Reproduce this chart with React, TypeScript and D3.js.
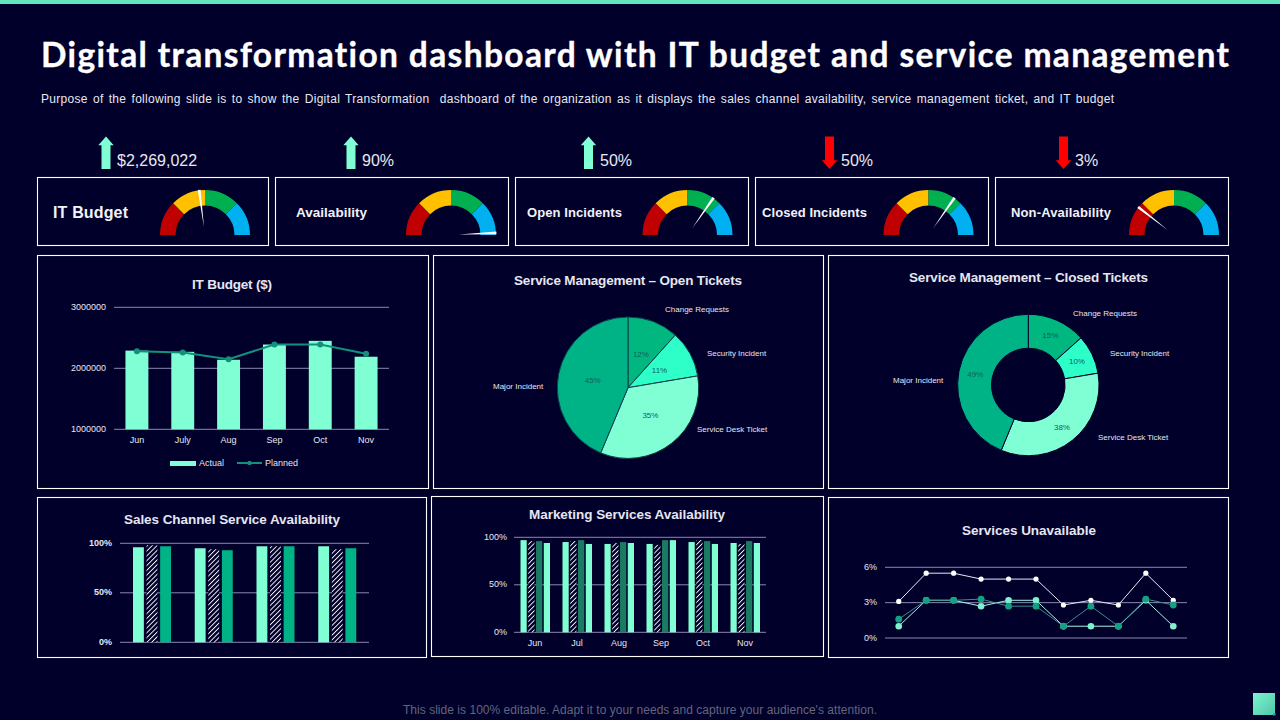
import React from "react";
import * as d3 from "d3";

const BG = "#00002b";
const MINT = "#80ffd4";
const GREEN = "#00b386";
const SANS = "'Liberation Sans', Arial, sans-serif";

const titleText = "Digital transformation dashboard with IT budget and service management";
const subtitleText = "Purpose of the following slide is to show the Digital Transformation  dashboard of the organization as it displays the sales channel availability, service management ticket, and IT budget";
const footerText = "This slide is 100% editable. Adapt it to your needs and capture your audience's attention.";

const kpiLabels = ["IT Budget", "Availability", "Open Incidents", "Closed Incidents", "Non-Availability"];
const kpiValues = ["$2,269,022", "90%", "50%", "50%", "3%"];
const kpiTrendUp = [true, true, true, false, false];
const kpiNeedle = [0.459, 0.985, 0.694, 0.694, 0.211];
const gaugeBands = [0, 0.25, 0.5, 0.75, 1];
const gaugeColors = ["#c00000", "#ffc000", "#00b050", "#00b0f0"];

const budgetMonths = ["Jun", "July", "Aug", "Sep", "Oct", "Nov"];
const budgetActual = [2290000, 2270000, 2140000, 2390000, 2450000, 2190000];
const budgetPlanned = [2280000, 2260000, 2150000, 2390000, 2390000, 2240000];
const budgetTicks = [1000000, 2000000, 3000000];

const ticketCats = ["Change Requests", "Security Incident", "Service Desk Ticket", "Major Incident"];
const ticketColors = ["#00b77f", "#2effc8", MINT, GREEN];
const openTickets = [12, 11, 35, 45];
const closedTickets = [15, 10, 38, 49];

const salesRegions = ["A", "B", "C", "D"];
const salesS1 = [96, 95, 97, 97];
const salesS2 = [98, 94, 97, 94];
const salesS3 = [97, 93, 97, 95];

const mktMonths = ["Jun", "Jul", "Aug", "Sep", "Oct", "Nov"];
const mktS1 = [97, 95, 93, 93, 95, 94];
const mktS2 = [96, 96, 94, 92, 97, 93];
const mktS3 = [96, 97, 95, 97, 96, 96];
const mktS4 = [94, 93, 94, 97, 93, 94];

const unavailIdx = ["1", "2", "3", "4", "5", "6", "7", "8", "9", "10", "11"];
const unavailWhite = [3.1, 5.5, 5.5, 5, 5, 5, 2.8, 3.2, 2.8, 5.5, 3.2];
const unavailMint = [1, 3.2, 3.2, 2.7, 3.2, 3.2, 1, 1, 1, 3.2, 1];
const unavailGreen = [1.6, 3.2, 3.2, 3.3, 2.7, 2.7, 1, 2.7, 1, 3.3, 2.8];

const T = ({ x, y, s = 9, w = 400, a = "start", c = "#e6e6f0", len, children, f = SANS, ws, st }: any) => (
  <text x={x} y={y} fontSize={s} fontWeight={w} textAnchor={a} fill={c} fontFamily={f} dominantBaseline="central"
    textLength={len} lengthAdjust={len ? "spacing" : undefined} xmlSpace="preserve" wordSpacing={ws}
    stroke={st ? c : undefined} strokeWidth={st}
    style={{ fontVariantLigatures: "none" }}>{children}</text>
);

const Panel = ({ x0, y0, x1, y1 }: any) => (
  <rect x={x0 + 0.5} y={y0 + 0.5} width={x1 - x0 - 1} height={y1 - y0 - 1} fill="none" stroke="#ffffff" strokeWidth={1.1} />
);

const Arrow = ({ cx, up }: any) => {
  const top = 136.5, bot = 169;
  const c = up ? MINT : "#ff0000";
  const y = d3.scaleLinear().domain([0, 1]).range(up ? [top, bot] : [bot, top]);
  const pts: [number, number][] = [[0, 0], [7.7, 0.27], [4.5, 0.27], [4.5, 1], [-4.5, 1], [-4.5, 0.27], [-7.7, 0.27]];
  return <polygon fill={c} points={pts.map(p => `${cx + p[0]},${y(p[1])}`).join(" ")} />;
};

const Gauge = ({ cx, value }: any) => {
  const cy = 235, R = 45, r = 29.5;
  const ang = d3.scaleLinear().domain([0, 1]).range([-Math.PI / 2, Math.PI / 2]);
  const arc = d3.arc();
  const a = ang(value);
  const dir = [Math.sin(a), -Math.cos(a)];
  const perp = [Math.cos(a), Math.sin(a)];
  const tip = [cx + dir[0] * 45.5, cy + dir[1] * 45.5];
  const base = [cx + dir[0] * 8, cy + dir[1] * 8];
  const hw = 1.4;
  return (
    <g>
      {gaugeColors.map((c, i) => (
        <path key={i} fill={c} transform={`translate(${cx},${cy})`}
          d={arc({ innerRadius: r, outerRadius: R, startAngle: ang(gaugeBands[i]), endAngle: ang(gaugeBands[i + 1]) }) as string} />
      ))}
      <polygon fill="#ffffff" points={`${base[0]},${base[1]} ${tip[0] + perp[0] * hw},${tip[1] + perp[1] * hw} ${tip[0] - perp[0] * hw},${tip[1] - perp[1] * hw}`} />
    </g>
  );
};

const Grid = ({ x0, x1, y }: any) => <line x1={x0} x2={x1} y1={y} y2={y} stroke="#8c86b0" strokeWidth={1} />;

const BudgetChart = () => {
  const x = d3.scaleBand().domain(budgetMonths).range([114, 389]).paddingInner(0.5).paddingOuter(0.25);
  const y = d3.scaleLinear().domain([1000000, 3000000]).range([429.3, 307.3]);
  const cx = (m: string) => (x(m) as number) + x.bandwidth() / 2;
  const line = d3.line<number>().x((_, i) => cx(budgetMonths[i])).y(v => y(v));
  return (
    <g>
      <T x={232} y={284} s={13.5} w={700} a="middle" len={80}>IT Budget ($)</T>
      {budgetTicks.map(t => (
        <g key={t}>
          <Grid x0={114} x1={389} y={y(t)} />
          <T x={106} y={y(t) - 0.5} a="end" s={9}>{String(t)}</T>
        </g>
      ))}
      {budgetMonths.map((m, i) => (
        <rect key={m} x={x(m)} width={x.bandwidth()} y={y(budgetActual[i])} height={y(1000000) - y(budgetActual[i])} fill={MINT} />
      ))}
      <path d={line(budgetPlanned) as string} fill="none" stroke="#12917a" strokeWidth={2} />
      {budgetMonths.map((m, i) => <circle key={m} cx={cx(m)} cy={y(budgetPlanned[i])} r={3} fill="#12917a" />)}
      {budgetMonths.map(m => <T key={m} x={cx(m)} y={440} a="middle" s={9}>{m}</T>)}
      <rect x={170} y={461} width={26} height={5} fill={MINT} />
      <T x={199} y={463} s={9}>Actual</T>
      <line x1={237} x2={262} y1={463} y2={463} stroke="#12917a" strokeWidth={2} />
      <circle cx={249.5} cy={463} r={2.2} fill="#12917a" />
      <T x={265} y={463} s={9}>Planned</T>
    </g>
  );
};

const Pie = ({ cx, cy, values, inner, labelR, labels, title, stroke }: any) => {
  const pie = d3.pie<number>().sort(null).value(v => v);
  const arcs = pie(values);
  const arc = d3.arc<any>().innerRadius(inner).outerRadius(70.7);
  const lab = d3.arc<any>().innerRadius(labelR).outerRadius(labelR);
  return (
    <g>
      <T x={title.x} y={title.y} s={13.5} w={700} a="middle" len={title.len}>{title.text}</T>
      {arcs.map((d, i) => (
        <path key={i} transform={`translate(${cx},${cy})`} d={arc(d) as string} fill={ticketColors[i]} stroke={stroke} strokeWidth={1} />
      ))}
      {arcs.map((d, i) => {
        const [a, b] = lab.centroid(d);
        return <T key={i} x={cx + a} y={cy + b} s={8} a="middle" c="#0d5f5a">{`${values[i]}%`}</T>;
      })}
      {ticketCats.map((c, i) => <T key={c} x={labels[i][0]} y={labels[i][1]} s={8}>{c}</T>)}
    </g>
  );
};

const SalesChart = () => {
  const y = d3.scaleLinear().domain([0, 100]).range([642.3, 543.3]);
  const x = d3.scaleBand().domain(salesRegions).range([120, 367]);
  const sub = d3.scaleBand().domain(["a", "b", "c"]).range([13, 51]).paddingInner(0.2);
  const series: [string, number[], string][] = [["a", salesS1, MINT], ["b", salesS2, "url(#hatch)"], ["c", salesS3, GREEN]];
  return (
    <g>
      <T x={232} y={519} s={13.5} w={700} a="middle" len={216}>Sales Channel Service Availability</T>
      {[0, 50, 100].map(t => (
        <g key={t}>
          <Grid x0={120} x1={369} y={y(t)} />
          <T x={112} y={y(t) - 0.5} a="end" s={9} w={700}>{`${t}%`}</T>
        </g>
      ))}
      {series.map(([k, vals, fill]) => salesRegions.map((r, i) => (
        <rect key={k + r} x={(x(r) as number) + (sub(k) as number)} width={sub.bandwidth()} y={y(vals[i])} height={y(0) - y(vals[i])} fill={fill} />
      )))}
    </g>
  );
};

const MarketingChart = () => {
  const y = d3.scaleLinear().domain([0, 100]).range([632.3, 537.3]);
  const x = d3.scaleBand().domain(mktMonths).range([514, 766]);
  const sub = d3.scaleBand().domain(["a", "b", "c", "d"]).range([6.5, 36]).paddingInner(0.2);
  const series: [string, number[], string][] = [["a", mktS1, MINT], ["b", mktS2, "url(#hatch)"], ["c", mktS3, "#1a7a62"], ["d", mktS4, MINT]];
  return (
    <g>
      <T x={627} y={514} s={13.5} w={700} a="middle" len={196}>Marketing Services Availability</T>
      {[0, 50, 100].map(t => (
        <g key={t}>
          <Grid x0={514} x1={766} y={y(t)} />
          <T x={507} y={y(t) - 0.5} a="end" s={9}>{`${t}%`}</T>
        </g>
      ))}
      {series.map(([k, vals, fill]) => mktMonths.map((m, i) => (
        <rect key={k + m} x={(x(m) as number) + (sub(k) as number)} width={sub.bandwidth()} y={y(vals[i])} height={y(0) - y(vals[i])} fill={fill} />
      )))}
      {mktMonths.map(m => <T key={m} x={(x(m) as number) + x.bandwidth() / 2} y={643} a="middle" s={9}>{m}</T>)}
    </g>
  );
};

const UnavailChart = () => {
  const y = d3.scaleLinear().domain([0, 6]).range([638, 567.3]);
  const x = d3.scaleBand().domain(unavailIdx).range([885, 1187]);
  const cx = (k: string) => (x(k) as number) + x.bandwidth() / 2;
  const line = d3.line<number>().x((_, i) => cx(unavailIdx[i])).y(v => y(v));
  const series: [number[], string, string, number][] = [
    [unavailWhite, "#e8e8f4", "#ffffff", 2.6],
    [unavailMint, "#a8f5e0", "#80f0d0", 3.3],
    [unavailGreen, "#3e8c8a", "#12a283", 3.4],
  ];
  return (
    <g>
      <T x={1029} y={530} s={13.5} w={700} a="middle" len={134}>Services Unavailable</T>
      {[0, 3, 6].map(t => (
        <g key={t}>
          <Grid x0={885} x1={1187} y={y(t)} />
          <T x={877} y={y(t) - 0.5} a="end" s={9}>{`${t}%`}</T>
        </g>
      ))}
      {series.map(([vals, lc, pc, r], s) => (
        <g key={s}>
          <path d={line(vals) as string} fill="none" stroke={lc} strokeWidth={1} />
          {vals.map((v, i) => <circle key={i} cx={cx(unavailIdx[i])} cy={y(v)} r={r} fill={pc} />)}
        </g>
      ))}
    </g>
  );
};

const kpiBoxes = [[37, 269], [275, 509], [515, 749], [755, 989], [995, 1229]];
const kpiGaugeX = [205, 451, 687.5, 928.5, 1174];
const kpiArrowX = [106, 351, 588.5, 829.5, 1063.5];
const kpiValueX = [117, 362, 600, 841, 1075];
const kpiLabelX = [53, 296, 527, 762, 1011];
const kpiLabelLen = [75, 71, 95, 105, 100];
const kpiLabelSize = [16, 13.5, 13, 13, 13];

export default function App() {
  return (
    <svg width={1280} height={720} viewBox="0 0 1280 720" style={{ position: "fixed", left: 0, top: 0, display: "block" }}>
      <defs>
        <pattern id="hatch" width={3.4} height={3.4} patternUnits="userSpaceOnUse" patternTransform="rotate(45)">
          <rect width={3.4} height={3.4} fill="#00002b" />
          <rect width={0.9} height={3.4} fill="#ffffff" />
        </pattern>
        <linearGradient id="corner" x1="0" y1="0" x2="1" y2="1">
          <stop offset="0" stopColor="#7df5cf" />
          <stop offset="1" stopColor="#4fc6a8" />
        </linearGradient>
      </defs>
      <rect width={1280} height={720} fill={BG} />
      <rect width={1280} height={4} fill="#62e6bd" />
      <T x={41} y={53.5} s={33.5} w={700} c="#ffffff" len={1188} st={0.35} f="Lato, sans-serif">{titleText}</T>
      <T x={41} y={98.5} s={12} c="#e8e8f0" len={1073} ws={1.6}>{subtitleText}</T>

      {kpiLabels.map((l, i) => (
        <g key={l}>
          <Arrow cx={kpiArrowX[i]} up={kpiTrendUp[i]} />
          <T x={kpiValueX[i]} y={160} s={16} c="#e8e8f0">{kpiValues[i]}</T>
          <Panel x0={kpiBoxes[i][0]} x1={kpiBoxes[i][1]} y0={177} y1={246} />
          <T x={kpiLabelX[i]} y={212} s={kpiLabelSize[i]} w={700} c="#f2f2f8" len={kpiLabelLen[i]}>{l}</T>
          <Gauge cx={kpiGaugeX[i]} value={kpiNeedle[i]} />
        </g>
      ))}

      <Panel x0={37} x1={429} y0={255} y1={489} />
      <Panel x0={433} x1={824} y0={255} y1={489} />
      <Panel x0={828} x1={1229} y0={255} y1={489} />
      <Panel x0={37} x1={427} y0={497} y1={658} />
      <Panel x0={431} x1={824} y0={496} y1={657} />
      <Panel x0={828} x1={1229} y0={497} y1={658} />

      <BudgetChart />
      <Pie cx={628} cy={387.7} values={openTickets} inner={0} labelR={36} stroke="#0b3f48"
        title={{ x: 628, y: 280, len: 228, text: "Service Management – Open Tickets" }}
        labels={[[665, 309], [707, 353], [697, 429], [493, 386]]} />
      <Pie cx={1028.3} cy={385} values={closedTickets} inner={36.8} labelR={54} stroke={BG}
        title={{ x: 1028.5, y: 277, len: 239, text: "Service Management – Closed Tickets" }}
        labels={[[1073, 313], [1110, 353], [1098, 437], [893, 380]]} />
      <SalesChart />
      <MarketingChart />
      <UnavailChart />

      <T x={640} y={710} s={12} a="middle" c="#62667a" len={474}>{footerText}</T>
      <rect x={1253} y={693} width={22} height={22} fill="url(#corner)" />
      <rect x={1273} y={713} width={2.5} height={2.5} fill="#2fa8a0" />
    </svg>
  );
}
